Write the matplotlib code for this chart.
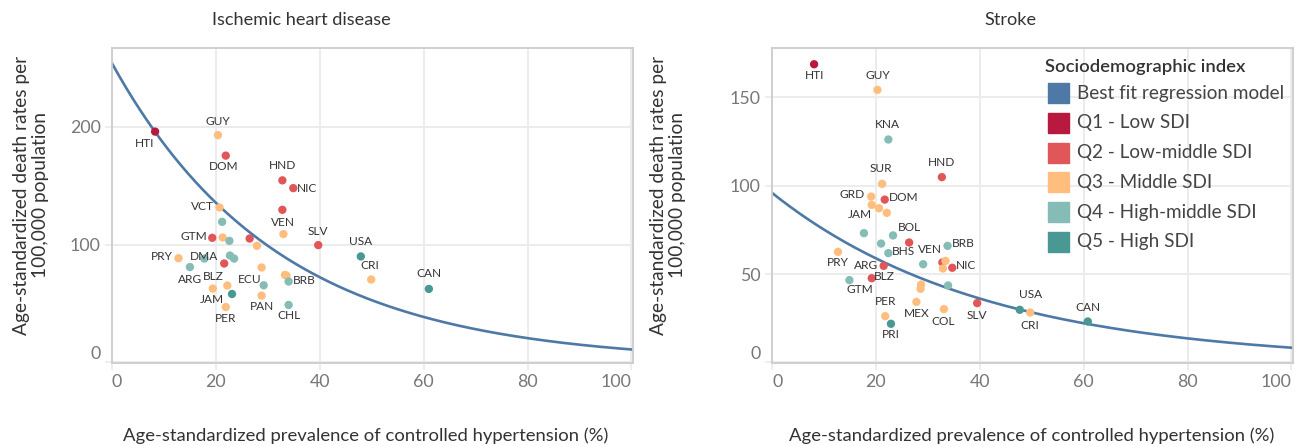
import numpy as np
import matplotlib
matplotlib.use("Agg")
import matplotlib.pyplot as plt
from matplotlib.patches import Rectangle

plt.rcParams["font.family"] = ["Lato", "DejaVu Sans"]

# ---- data ----
SDI_LABELS = ["Q1 - Low SDI", "Q2 - Low-middle SDI", "Q3 - Middle SDI",
              "Q4 - High-middle SDI", "Q5 - High SDI"]
SDI_COLORS = ["#b8193f", "#e15759", "#ffbe7d", "#86bcb6", "#499894"]
FIT_COLOR = "#4e79a7"

# ischemic heart disease panel
ihd_code = ["HTI", "GUY", "DOM", "HND", "NIC", "VCT", "", "VEN", "", "GTM",
            "", "", "", "", "SLV", "USA", "PRY", "DMA", "", "",
            "BLZ", "ARG", "ECU", "", "", "BRB", "CRI", "CAN", "", "",
            "JAM", "", "PAN", "PER", "CHL"]
ihd_x = [8.3, 20.4, 21.9, 32.8, 34.9, 20.7, 32.8, 33.0, 21.2, 19.3,
         21.3, 22.6, 26.5, 27.9, 39.7, 47.9, 12.8, 17.8, 22.7, 23.5,
         21.6, 15.0, 28.8, 33.3, 33.6, 34.0, 49.9, 61.0, 29.2, 22.2,
         19.4, 23.1, 28.8, 21.9, 34.0]
ihd_y = [196, 193, 175.6, 154.6, 148, 131.6, 129.6, 109, 119.4, 105.8,
         106.1, 103.2, 105.2, 99, 99.6, 90, 88.5, 88.2, 90.8, 88.2,
         84, 81, 80.6, 74.3, 73.7, 68.7, 70.4, 62.4, 65.5, 65.3,
         62.7, 58.1, 56.7, 47, 48.8]
ihd_sdi = [1, 3, 2, 2, 2, 3, 2, 3, 4, 2,
           3, 4, 2, 3, 2, 5, 3, 4, 4, 4,
           2, 4, 3, 3, 3, 4, 3, 5, 4, 3,
           3, 5, 3, 3, 4]
ihd_fit = (254, 0.0314)   # a * exp(-k * x)

# stroke panel
stroke_code = ["HTI", "GUY", "KNA", "HND", "SUR", "GRD", "DOM", "JAM", "", "",
               "", "", "BOL", "", "BRB", "BHS", "VEN", "PRY", "", "",
               "", "NIC", "ARG", "BLZ", "GTM", "", "", "", "MEX", "COL",
               "SLV", "PER", "PRI", "USA", "CRI", "CAN"]
stroke_x = [8.1, 20.3, 22.4, 32.7, 21.2, 19.1, 21.7, 19.2, 20.6, 22.1,
            17.7, 23.3, 26.4, 21.0, 33.8, 22.4, 29.1, 12.7, 32.8, 33.4,
            32.9, 34.7, 21.5, 19.2, 14.9, 33.9, 28.7, 28.6, 27.8, 33.1,
            39.5, 21.8, 22.9, 47.7, 49.7, 60.8]
stroke_y = [168.8, 154.3, 126.2, 104.9, 101.1, 93.9, 92.2, 89.2, 87.3, 84.7,
            73.2, 71.9, 67.9, 67.3, 66, 61.9, 55.6, 62.6, 56.6, 57.5,
            53.2, 53.6, 54.7, 47.7, 46.6, 43.6, 44.1, 41.7, 34.3, 30.2,
            33.6, 26.2, 21.9, 29.8, 28.3, 23.2]
stroke_sdi = [1, 3, 4, 2, 3, 3, 2, 3, 3, 3,
              4, 4, 2, 4, 4, 4, 4, 3, 2, 3,
              3, 2, 2, 2, 4, 4, 3, 3, 3, 3,
              2, 3, 5, 5, 3, 5]
stroke_fit = (96, 0.0244)

# label placement: (dx px, dy px downwards, ha)
IHD_LABEL_POS = {
    "HTI": (-11, 12, "center"), "GUY": (0, -14, "center"), "DOM": (-2, 11, "center"),
    "HND": (0, -15, "center"), "NIC": (4, 0, "left"), "VCT": (-6, -1, "right"),
    "VEN": (0, -12, "center"), "GTM": (-5, -1, "right"), "SLV": (0, -14, "center"),
    "USA": (0, -15, "center"), "PRY": (-6, -2, "right"), "DMA": (0, -2, "center"),
    "ARG": (0, 12, "center"), "BLZ": (-11, 13, "center"), "JAM": (-1, 11, "center"),
    "ECU": (-12, 12, "center"), "BRB": (4, -1, "left"), "CRI": (-1, -14, "center"),
    "CAN": (0, -15, "center"), "PAN": (0, 11, "center"), "PER": (0, 11, "center"),
    "CHL": (0, 11, "center"),
}
STROKE_LABEL_POS = {
    "HTI": (0, 11, "center"), "GUY": (0, -14, "center"), "KNA": (-1, -15, "center"),
    "HND": (0, -15, "center"), "SUR": (-1, -15, "center"), "GRD": (-6, -2, "right"),
    "DOM": (4, -2, "left"), "JAM": (-12, 10, "center"), "BOL": (0, -15, "center"),
    "BRB": (4, -2, "left"), "BHS": (4, -2, "left"), "VEN": (7, -15, "center"),
    "PRY": (0, 11, "center"), "ARG": (-6, 0, "right"), "BLZ": (2, -2, "left"),
    "NIC": (4, -2, "left"), "GTM": (10, 9, "center"), "PER": (0, -15, "center"),
    "MEX": (0, 12, "center"), "COL": (-1, 12, "center"), "SLV": (0, 12, "center"),
    "PRI": (0, 11, "center"), "USA": (11, -15, "center"), "CRI": (0, 13, "center"),
    "CAN": (0, -14, "center"),
}

GRID = "#ebebeb"
SPINE = "#cccccc"
TICK_TXT = "#777777"
TXT = "#333333"

W, H = 1301, 446
fig = plt.figure(figsize=(W / 100, H / 100), dpi=100)


def px_axes(x0, y0, x1, y1):
    return fig.add_axes([x0 / W, 1 - y1 / H, (x1 - x0) / W, (y1 - y0) / H])


def draw_panel(ax, xs, ys, sdi, codes, fit, label_pos, ylim, yticks):
    xx = np.linspace(0, 100, 300)
    ax.plot(xx, fit[0] * np.exp(-fit[1] * xx), color=FIT_COLOR, lw=1.9, zorder=2)
    cols = [SDI_COLORS[s - 1] for s in sdi]
    ax.scatter(xs, ys, s=36, c=cols, linewidths=0, zorder=3)
    for x, y, c in zip(xs, ys, codes):
        if not c:
            continue
        dx, dy, ha = label_pos[c]
        ax.annotate(c, (x, y), xytext=(dx, -dy), textcoords="offset pixels",
                    ha=ha, va="center", fontsize=8.6, color=TXT, zorder=4)
    ax.set_xlim(0, 100.3)
    ax.set_ylim(*ylim)
    ax.set_xticks([0, 20, 40, 60, 80, 100])
    ax.set_yticks(yticks)
    ax.grid(True, color=GRID, lw=1.3)
    ax.set_axisbelow(True)
    for sp in ax.spines.values():
        sp.set_color(SPINE)
        sp.set_linewidth(1.3)
    ax.tick_params(length=5, width=1.2, color=GRID, labelsize=12.8,
                   labelcolor=TICK_TXT, pad=3)
    xl = ax.get_xticklabels()
    xl[0].set_ha("left")
    xl[-1].set_ha("right")
    ax.get_yticklabels()[0].set_va("bottom")


ax1 = px_axes(112, 48, 633, 363)
draw_panel(ax1, ihd_x, ihd_y, ihd_sdi, ihd_code, ihd_fit, IHD_LABEL_POS,
           (-0.5, 267), [0, 100, 200])
ax2 = px_axes(772, 48, 1293, 363)
draw_panel(ax2, stroke_x, stroke_y, stroke_sdi, stroke_code, stroke_fit,
           STROKE_LABEL_POS, (-0.3, 178), [0, 50, 100, 150])

# titles and axis labels
fig.text(301 / W, 1 - 20 / H, "Ischemic heart disease", ha="center", va="center",
         fontsize=13.1, color=TXT)
fig.text(1010 / W, 1 - 20 / H, "Stroke", ha="center", va="center",
         fontsize=13.1, color=TXT)
xlab = "Age-standardized prevalence of controlled hypertension (%)"
fig.text(366 / W, 1 - 436 / H, xlab, ha="center", va="center", fontsize=13.3, color=TXT)
fig.text(1032 / W, 1 - 436 / H, xlab, ha="center", va="center", fontsize=13.3, color=TXT)
ylab = "Age-standardized death rates per\n100,000 population"
fig.text(31 / W, 1 - 195 / H, ylab, ha="center", va="center", rotation=90,
         fontsize=13.8, color=TXT, multialignment="center", linespacing=1.2)
fig.text(668 / W, 1 - 195 / H, ylab, ha="center", va="center", rotation=90,
         fontsize=13.8, color=TXT, multialignment="center", linespacing=1.2)

# legend
fig.text(1045 / W, 1 - 67 / H, "Sociodemographic index", ha="left", va="center",
         fontsize=13.2, color=TXT, fontweight="semibold")
leg_items = [("Best fit regression model", FIT_COLOR)] + list(zip(SDI_LABELS, SDI_COLORS))
row_y = 93
for lab, col in leg_items:
    fig.patches.append(Rectangle((1048 / W, 1 - (row_y + 10) / H), 21 / W, 20 / H,
                                 transform=fig.transFigure, color=col, figure=fig))
    fig.text(1077 / W, 1 - row_y / H, lab, ha="left", va="center",
             fontsize=13.6, color="#444444")
    row_y += 29.8

fig.savefig("out.png", dpi=100)
